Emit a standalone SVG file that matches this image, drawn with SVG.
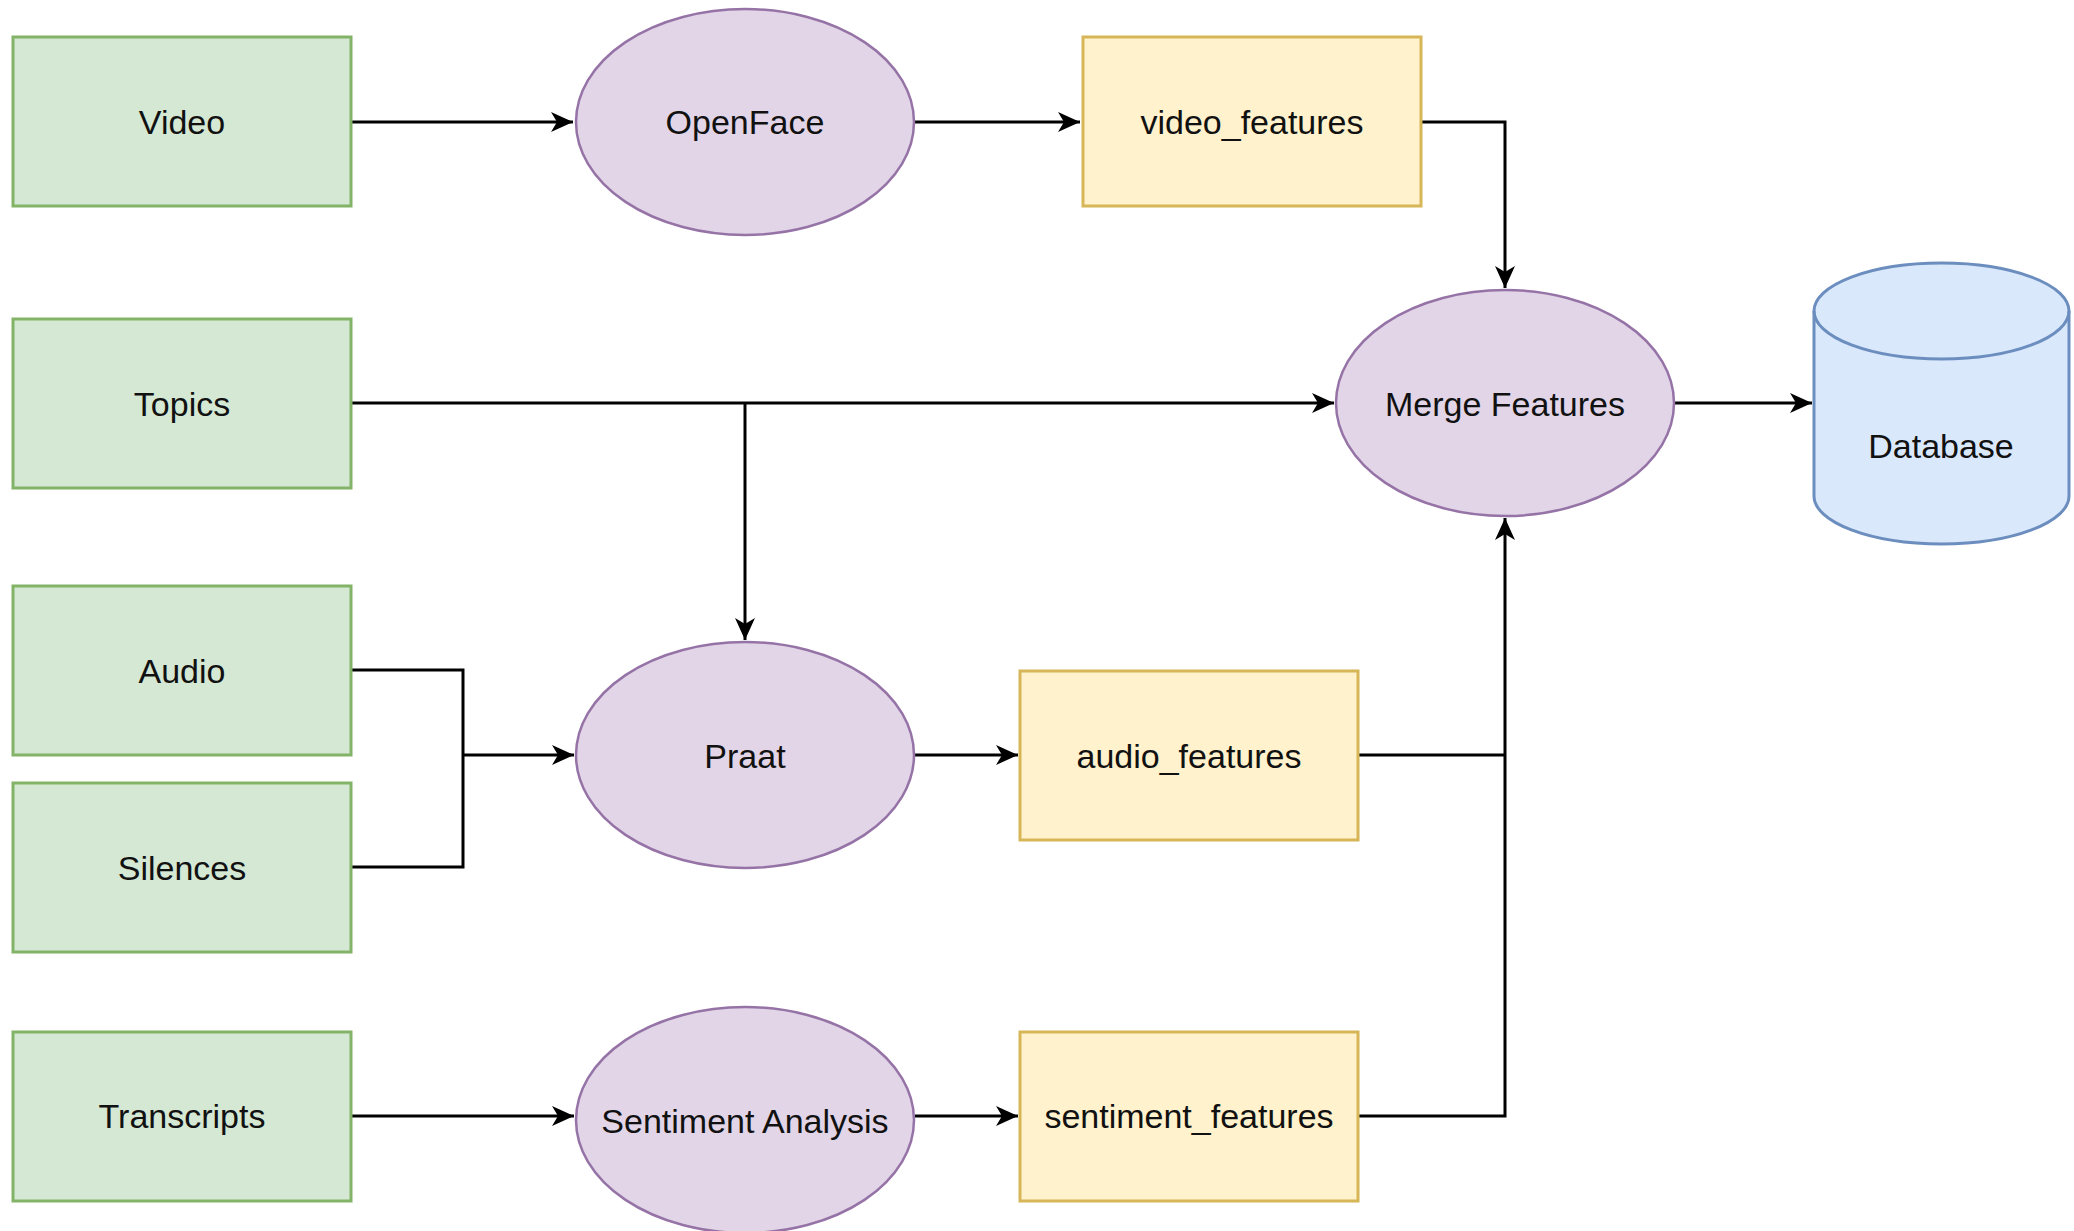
<svg xmlns="http://www.w3.org/2000/svg" width="2074" height="1231" viewBox="0 0 2074 1231">
<style>
.src{fill:#d5e8d4;stroke:#82b366;stroke-width:3}
.proc{fill:#e1d5e7;stroke:#9673a6;stroke-width:2.5}
.feat{fill:#fff2cc;stroke:#d6b656;stroke-width:3}
.db{fill:#dae8fc;stroke:#6c8ebf;stroke-width:3}
.lbl{font-family:"Liberation Sans",Arial,Helvetica,sans-serif;font-size:34px;fill:#111;text-anchor:middle;dominant-baseline:central}
.edge{fill:none;stroke:#000;stroke-width:3}
</style>
<defs>
<marker id="arr" markerUnits="userSpaceOnUse" markerWidth="22" markerHeight="22" viewBox="0 0 22 22" refX="22" refY="11" orient="auto">
<path d="M0,1 L22,11 L0,21 L6,11 Z" fill="#000"/>
</marker>
</defs>
<rect width="2074" height="1231" fill="#fff"/>
<g id="connectors">
<path class="edge" d="M351,122 H573" marker-end="url(#arr)"/>
<path class="edge" d="M914,122 H1080" marker-end="url(#arr)"/>
<path class="edge" d="M1421,122 H1505 V288" marker-end="url(#arr)"/>
<path class="edge" d="M351,403 H1334" marker-end="url(#arr)"/>
<path class="edge" d="M745,403 V640" marker-end="url(#arr)"/>
<path class="edge" d="M351,670 H463 V867 H351"/>
<path class="edge" d="M463,755 H574" marker-end="url(#arr)"/>
<path class="edge" d="M915,755 H1018" marker-end="url(#arr)"/>
<path class="edge" d="M1358,755 H1505"/>
<path class="edge" d="M1358,1116 H1505 V518" marker-end="url(#arr)"/>
<path class="edge" d="M351,1116 H574" marker-end="url(#arr)"/>
<path class="edge" d="M915,1116 H1018" marker-end="url(#arr)"/>
<path class="edge" d="M1674,403 H1812" marker-end="url(#arr)"/>
</g>
<g id="video"><rect class="src" x="13" y="37" width="338" height="169"/><text class="lbl" x="182" y="122">Video</text></g>
<g id="topics"><rect class="src" x="13" y="319" width="338" height="169"/><text class="lbl" x="182" y="404">Topics</text></g>
<g id="audio"><rect class="src" x="13" y="586" width="338" height="169"/><text class="lbl" x="182" y="671">Audio</text></g>
<g id="silences"><rect class="src" x="13" y="783" width="338" height="169"/><text class="lbl" x="182" y="868">Silences</text></g>
<g id="transcripts"><rect class="src" x="13" y="1032" width="338" height="169"/><text class="lbl" x="182" y="1116">Transcripts</text></g>
<g id="openface"><ellipse class="proc" cx="745" cy="122" rx="169" ry="113"/><text class="lbl" x="745" y="122">OpenFace</text></g>
<g id="video_features"><rect class="feat" x="1083" y="37" width="338" height="169"/><text class="lbl" x="1252" y="122">video_features</text></g>
<g id="merge"><ellipse class="proc" cx="1505" cy="403" rx="169" ry="113"/><text class="lbl" x="1505" y="404">Merge Features</text></g>
<g id="database"><path class="db" d="M1814,311 A127.5,48 0 0 1 2069,311 V496 A127.5,48 0 0 1 1814,496 Z"/><path class="db" d="M1814,311 A127.5,48 0 0 0 2069,311" style="fill:none"/><text class="lbl" x="1941" y="446">Database</text></g>
<g id="praat"><ellipse class="proc" cx="745" cy="755" rx="169" ry="113"/><text class="lbl" x="745" y="756">Praat</text></g>
<g id="audio_features"><rect class="feat" x="1020" y="671" width="338" height="169"/><text class="lbl" x="1189" y="756">audio_features</text></g>
<g id="sentiment"><ellipse class="proc" cx="745" cy="1120" rx="169" ry="113"/><text class="lbl" x="745" y="1121">Sentiment Analysis</text></g>
<g id="sentiment_features"><rect class="feat" x="1020" y="1032" width="338" height="169"/><text class="lbl" x="1189" y="1116">sentiment_features</text></g>
</svg>
